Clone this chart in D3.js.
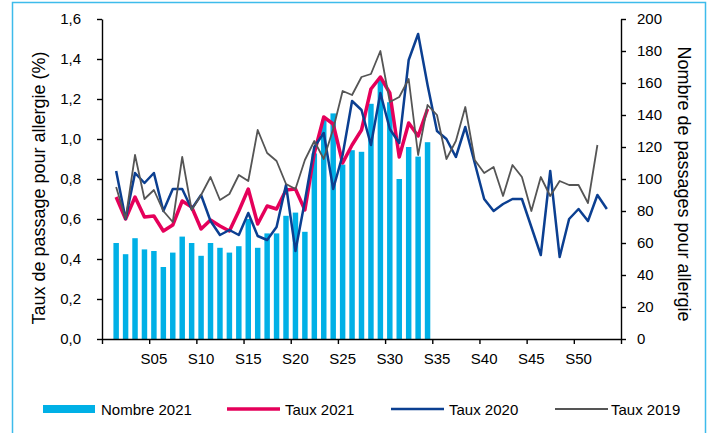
<!DOCTYPE html>
<html>
<head>
<meta charset="utf-8">
<script src="https://cdn.jsdelivr.net/npm/d3@7"></script>
<style>
  body { margin: 0; background: #fff; }
  text { font-family: "Liberation Sans", Arial, sans-serif; fill: #000; }
</style>
</head>
<body>
<script>
// weekly values, index 0 = S01
var nombre2021 = [60, 53, 63, 56, 55, 45, 54, 64, 60, 52, 60, 57, 54, 58, 75, 57, 66,
  66, 77, 79, 67, 116, 137, 141, 109, 118, 117, 147, 162, 148, 100, 120, 114, 123];

var taux2021 = [0.71, 0.60, 0.71, 0.61, 0.615, 0.54, 0.57, 0.69, 0.66, 0.55, 0.595, 0.565,
  0.54, 0.64, 0.75, 0.575, 0.665, 0.65, 0.745, 0.75, 0.645, 0.93, 1.11, 1.075, 0.88,
  0.97, 1.045, 1.25, 1.31, 1.23, 0.91, 1.08, 1.015, 1.15];

var taux2020 = [0.84, 0.60, 0.83, 0.78, 0.83, 0.64, 0.75, 0.75, 0.65, 0.72, 0.59, 0.52,
  0.545, 0.52, 0.63, 0.515, 0.495, 0.56, 0.77, 0.44, 0.69, 0.96, 1.03, 0.75, 0.92,
  1.19, 1.145, 0.97, 1.23, 1.05, 0.98, 1.395, 1.525, 1.27, 1.04, 1.00, 0.91, 1.06,
  0.88, 0.70, 0.64, 0.675, 0.70, 0.70, 0.56, 0.42, 0.84, 0.41, 0.60, 0.65, 0.59, 0.72, 0.65];

var taux2019 = [0.76, 0.60, 0.92, 0.70, 0.745, 0.64, 0.585, 0.91, 0.645, 0.72, 0.81, 0.695,
  0.725, 0.82, 0.79, 1.045, 0.93, 0.89, 0.775, 0.75, 0.895, 0.99, 0.90, 1.05, 1.24,
  1.22, 1.31, 1.325, 1.44, 1.185, 1.21, 1.30, 0.92, 1.17, 1.12, 0.90, 0.99, 1.16,
  0.895, 0.83, 0.86, 0.715, 0.87, 0.81, 0.64, 0.81, 0.715, 0.79, 0.77, 0.77, 0.68, 0.97];

var weekLabels = ['S05', 'S10', 'S15', 'S20', 'S25', 'S30', 'S35', 'S40', 'S45', 'S50'];
var tauxTicks = [0, 0.2, 0.4, 0.6, 0.8, 1.0, 1.2, 1.4, 1.6];
var nombreTicks = [0, 20, 40, 60, 80, 100, 120, 140, 160, 180, 200];

var svgW = 710, svgH = 433;
var plotL = 102, plotR = 621, plotT = 19, plotB = 339;

var svg = d3.select('body').append('svg')
  .attr('width', svgW)
  .attr('height', svgH);

// light blue frame round the whole chart
svg.append('rect')
  .attr('x', 12.5).attr('y', 2.5)
  .attr('width', 693).attr('height', 450)
  .attr('fill', 'none')
  .attr('stroke', '#3dbbeb')
  .attr('stroke-width', 1.5);

// category axis has an empty slot before S01 and after S53 (55 slots)
var x = d3.scaleBand().domain(d3.range(0, 55)).range([plotL, plotR]).padding(0);
var bw = x.bandwidth();
var xEdge = d3.scaleLinear().domain([0, 55]).range([plotL, plotR]);
var y = d3.scaleLinear().domain([0, 1.6]).range([plotB, plotT]);
var y2 = d3.scaleLinear().domain([0, 200]).range([plotB, plotT]);

function cx(i) { return x(i + 1) + bw / 2; }  // i = 0 for S01

// bars
svg.append('g').selectAll('rect')
  .data(nombre2021)
  .join('rect')
  .attr('x', function(d, i) { return cx(i) - bw * 0.29; })
  .attr('width', bw * 0.58)
  .attr('y', function(d) { return y2(d); })
  .attr('height', function(d) { return y2(0) - y2(d); })
  .attr('fill', '#00b0e6');

var line = d3.line()
  .x(function(d, i) { return cx(i); })
  .y(function(d) { return y(d); });

var series = [
  { data: taux2021, color: '#e5005a', w: 3.5 },
  { data: taux2020, color: '#0b3f91', w: 2.5 },
  { data: taux2019, color: '#555555', w: 1.8 }
];
series.forEach(function(s) {
  svg.append('path')
    .datum(s.data)
    .attr('fill', 'none')
    .attr('stroke', s.color)
    .attr('stroke-width', s.w)
    .attr('stroke-linejoin', 'round')
    .attr('d', line);
});

var frFmt = function(d) { return d.toFixed(1).replace('.', ','); };

// left axis
var gl = svg.append('g')
  .attr('transform', 'translate(' + plotL + ',0)')
  .call(d3.axisLeft(y).tickValues(tauxTicks).tickFormat(frFmt)
    .tickSize(5).tickSizeOuter(0).tickPadding(16));

// right axis
var gr = svg.append('g')
  .attr('transform', 'translate(' + plotR + ',0)')
  .call(d3.axisRight(y2).tickValues(nombreTicks)
    .tickSize(5).tickSizeOuter(0).tickPadding(11));

// x axis: tick marks on the slot edges every 5 weeks, labels centred on the week
var gx = svg.append('g')
  .attr('transform', 'translate(0,' + plotB + ')')
  .call(d3.axisBottom(xEdge).tickValues(d3.range(0, 56, 5)).tickFormat('')
    .tickSize(5).tickSizeOuter(0));

var gxl = svg.append('g')
  .attr('transform', 'translate(0,' + plotB + ')')
  .call(d3.axisBottom(x).tickValues(d3.range(5, 55, 5))
    .tickFormat(function(d, i) { return weekLabels[i]; })
    .tickSize(0).tickPadding(14));
gxl.select('.domain').remove();

[gl, gr, gx, gxl].forEach(function(g) {
  g.selectAll('text').attr('font-size', 15).attr('font-family', '"Liberation Sans", Arial, sans-serif').attr('fill', '#000');
  g.selectAll('line').attr('stroke', '#000').attr('stroke-width', 1.4);
  g.selectAll('.domain').attr('stroke', '#000').attr('stroke-width', 1.4);
});

// axis titles
svg.append('text')
  .attr('transform', 'translate(45,188) rotate(-90)')
  .attr('text-anchor', 'middle')
  .attr('font-size', 18)
  .text('Taux de passage pour allergie (%)');

svg.append('text')
  .attr('transform', 'translate(678,184) rotate(90)')
  .attr('text-anchor', 'middle')
  .attr('font-size', 18)
  .text('Nombre de passages pour allergie');

// legend
var legend = svg.append('g').attr('font-size', 15);
legend.append('rect')
  .attr('x', 43).attr('y', 405).attr('width', 52).attr('height', 8)
  .attr('fill', '#00b0e6');
legend.append('text').attr('x', 101).attr('y', 415).text('Nombre 2021');

var legendItems = [
  { x: 227, tx: 285, label: 'Taux 2021' },
  { x: 391, tx: 449, label: 'Taux 2020' },
  { x: 555, tx: 611, label: 'Taux 2019' }
];
legendItems.forEach(function(it, i) {
  legend.append('line')
    .attr('x1', it.x).attr('x2', it.x + 53)
    .attr('y1', 409).attr('y2', 409)
    .attr('stroke', series[i].color)
    .attr('stroke-width', series[i].w);
  legend.append('text').attr('x', it.tx).attr('y', 415).text(it.label);
});
</script>
</body>
</html>
